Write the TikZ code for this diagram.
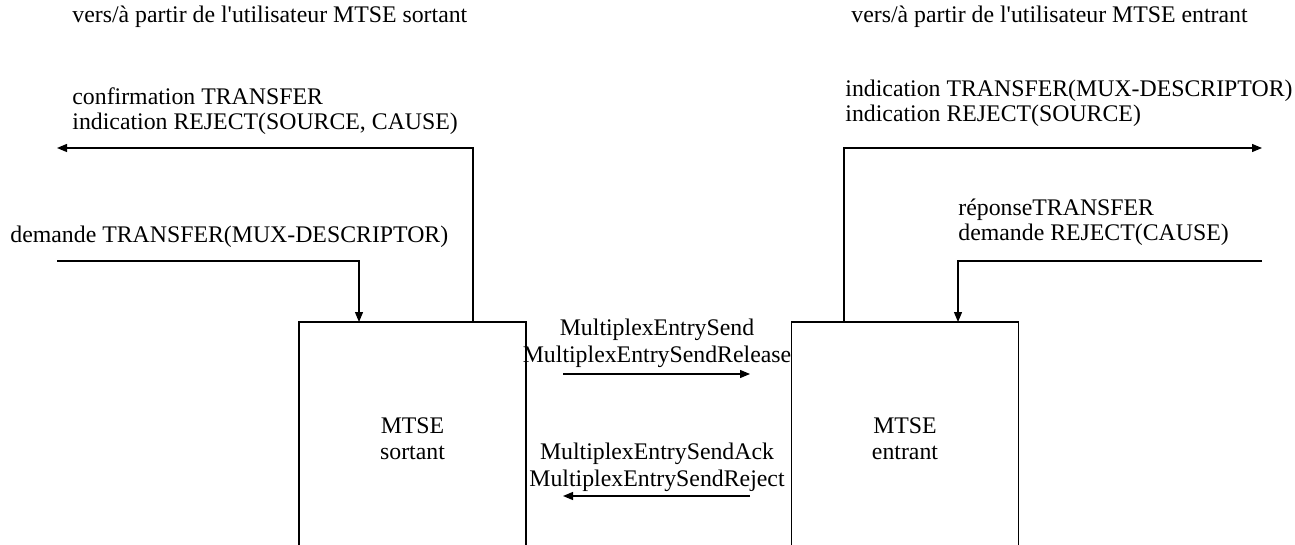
\documentclass[tikz,border=0pt]{standalone}
\usepackage{fontspec}
\setmainfont{Liberation Serif}
\usetikzlibrary{arrows.meta}
\tikzset{
	txt/.style={inner sep=0pt, align=left, anchor=west, font=\fontsize{11.9}{12.4}\selectfont},
	msg/.style={inner sep=0pt, align=center, font=\fontsize{11.9}{13.6}\selectfont},
	mtsebox/.style={draw, line width=0.6pt, minimum width=113.5pt, minimum height=117pt, align=center, font=\fontsize{11.9}{13}\selectfont},
	sig/.style={line width=0.6pt, -{Triangle[length=5pt, width=4pt]}},
}
\begin{document}
\begin{tikzpicture}[x=0.5pt, y=-0.5pt]
	\clip (0, 0) rectangle (1295, 545);
	% headings
	\node[txt] (headL) at (72, 17) {vers/à partir de l\textquotesingle utilisateur MTSE sortant};
	\node[txt] (headR) at (851, 17) {vers/à partir de l\textquotesingle utilisateur MTSE entrant};
	% primitives
	\node[txt] (confL) at (72, 111) {confirmation TRANSFER\\indication REJECT(SOURCE, CAUSE)};
	\node[txt] (demL) at (10, 237) {demande TRANSFER(MUX-DESCRIPTOR)};
	\node[txt] (indR) at (845, 103) {indication TRANSFER(MUX-DESCRIPTOR)\\indication REJECT(SOURCE)};
	\node[txt] (repR) at (958, 222) {réponseTRANSFER\\demande REJECT(CAUSE)};
	% entities
	\node[mtsebox] (sortant) at (412.5, 439) {MTSE\\sortant};
	\node[mtsebox] (entrant) at (905, 439) {MTSE\\entrant};
	% messages
	\node[msg] (sendTxt) at (657, 343) {MultiplexEntrySend\\MultiplexEntrySendRelease};
	\node[msg] (ackTxt) at (657, 467) {MultiplexEntrySendAck\\MultiplexEntrySendReject};
	\coordinate (sortOut) at (473, 322);
	\coordinate (sortIn) at (359, 322);
	\coordinate (entOut) at (844, 322);
	\coordinate (entIn) at (958, 322);
	\coordinate (toUserL) at (57, 148);
	\coordinate (fromUserL) at (57, 261);
	\coordinate (toUserR) at (1262, 148);
	\coordinate (fromUserR) at (1262, 261);
	\coordinate (sendA) at (563, 374);
	\coordinate (sendB) at (750, 374);
	\coordinate (ackA) at (750, 496);
	\coordinate (ackB) at (563, 496);
	\draw[sig] (sortOut) |- (toUserL);
	\draw[sig] (fromUserL) -| (sortIn);
	\draw[sig] (entOut) |- (toUserR);
	\draw[sig] (fromUserR) -| (entIn);
	\draw[sig] (sendA) -- (sendB);
	\draw[sig] (ackA) -- (ackB);
\end{tikzpicture}
\end{document}
